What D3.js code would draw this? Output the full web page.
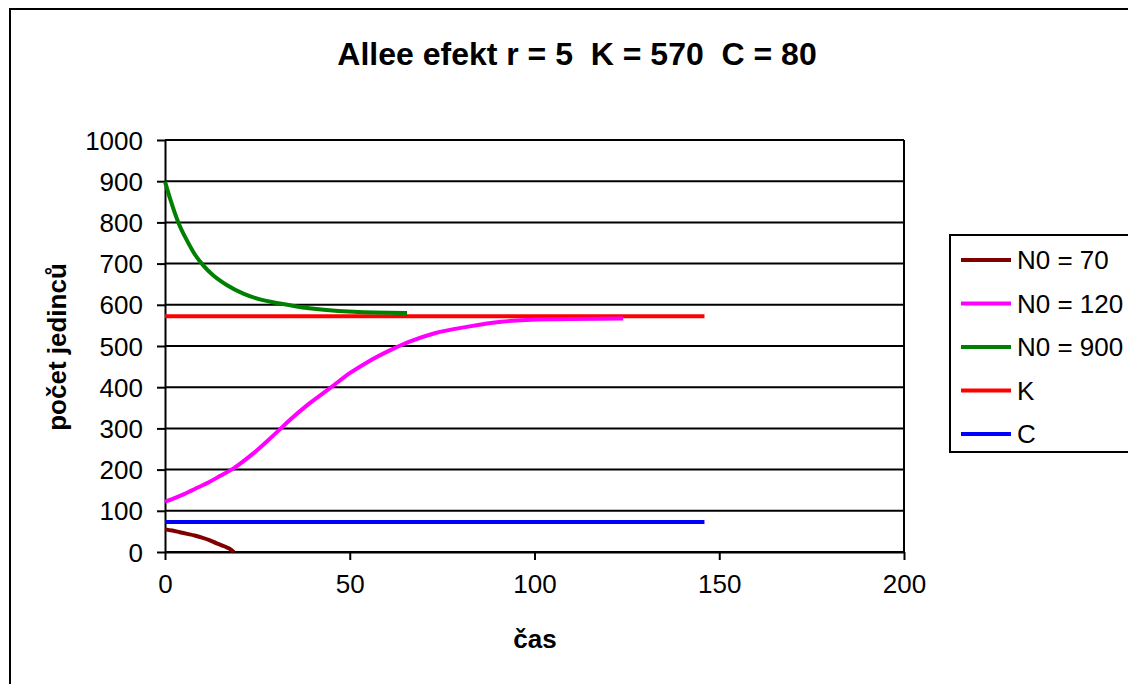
<!DOCTYPE html>
<html>
<head>
<meta charset="utf-8">
<script src="https://cdn.jsdelivr.net/npm/d3@7"></script>
<style>
  body { margin: 0; background: #fff; }
  text { font-family: "Liberation Sans", Arial, sans-serif; fill: #000; }
</style>
</head>
<body>
<div id="graph"></div>
<script>
// data
const seriesNames = ["N0 = 70", "N0 = 120", "N0 = 900", "K", "C"];
const seriesColors = ["#800000", "#ff00ff", "#008000", "#ff0000", "#0000ff"];

const t70 = [0, 2, 4, 6, 8, 10, 12, 14, 16, 18, 18.6];
const n70 = [55, 52, 48, 44, 40, 35, 29, 21, 14, 5, 0];

const t120 = [0, 5, 9, 12, 15, 18, 21, 24, 28, 31, 34, 39, 45, 50, 55, 61, 66, 73, 82, 91, 104, 124];
const n120 = [122, 140, 157, 170, 185, 200, 219, 240, 272, 297, 322, 360, 400, 434, 462, 490, 510, 531, 547, 559, 565, 567];

const t900 = [0, 1.4, 3.6, 5.9, 8.1, 10.4, 13.1, 16.7, 21.2, 25.7, 31.1, 35.6, 43, 51, 65.5];
const n900 = [899, 857, 800, 757, 722, 695, 671, 648, 627, 613, 603, 596, 588, 583, 580];

const tK = [0, 146];
const nK = [572, 572];

const tC = [0, 146];
const nC = [73, 73];

const xTicks = [0, 50, 100, 150, 200];
const yTicks = [0, 100, 200, 300, 400, 500, 600, 700, 800, 900, 1000];

const W = 1128, H = 684;
const margin = { top: 140, left: 165, right: 224, bottom: 132 };
const width = W - margin.left - margin.right;
const height = H - margin.top - margin.bottom;

const root = d3.select("#graph")
  .append("svg")
  .attr("width", W)
  .attr("height", H);

// outer chart border (runs off right / bottom)
root.append("rect")
  .attr("x", 10).attr("y", 9)
  .attr("width", W + 20).attr("height", H + 20)
  .attr("fill", "#fff")
  .attr("stroke", "#000")
  .attr("stroke-width", 2);

root.append("text")
  .attr("x", 577).attr("y", 65)
  .attr("text-anchor", "middle")
  .attr("font-size", "32px")
  .attr("font-weight", "bold")
  .style("white-space", "pre")
  .text("Allee efekt r = 5  K = 570  C = 80");

const svg = root.append("g")
  .attr("transform", `translate(${margin.left}, ${margin.top})`);

const xScale = d3.scaleLinear().domain([0, 200]).range([0, width]);
const yScale = d3.scaleLinear().domain([0, 1000]).range([height, 0]);

// gridlines
svg.selectAll(".grid")
  .data(yTicks)
  .join("line")
  .attr("x1", 0).attr("x2", width)
  .attr("y1", d => yScale(d)).attr("y2", d => yScale(d))
  .attr("stroke", "#000")
  .attr("stroke-width", 2);

// right border of plot area
svg.append("line")
  .attr("x1", width).attr("x2", width)
  .attr("y1", 0).attr("y2", height)
  .attr("stroke", "#000").attr("stroke-width", 2);

const xAxis = svg.append("g")
  .attr("transform", `translate(0, ${height})`)
  .call(d3.axisBottom(xScale).tickValues(xTicks).tickFormat(d3.format("d"))
    .tickSize(8).tickPadding(15).tickSizeOuter(0));

const yAxis = svg.append("g")
  .call(d3.axisLeft(yScale).tickValues(yTicks).tickFormat(d3.format("d"))
    .tickSize(8).tickPadding(14).tickSizeOuter(0));

[xAxis, yAxis].forEach(a => {
  a.select(".domain").attr("stroke", "#000").attr("stroke-width", 2);
  a.selectAll(".tick line").attr("stroke", "#000").attr("stroke-width", 2);
  a.selectAll(".tick text")
    .attr("font-size", "26px")
    .attr("font-family", "Liberation Sans, Arial, sans-serif")
    .attr("fill", "#000");
});
yAxis.selectAll(".tick text").attr("dy", "0.35em");
xAxis.selectAll(".tick text").attr("dy", "0.71em");

// axis titles
root.append("text")
  .attr("x", 535).attr("y", 648)
  .attr("text-anchor", "middle")
  .attr("font-size", "26px")
  .attr("font-weight", "bold")
  .text("čas");

root.append("text")
  .attr("transform", "translate(66, 347) rotate(-90)")
  .attr("text-anchor", "middle")
  .attr("font-size", "26px")
  .attr("font-weight", "bold")
  .text("počet jedinců");

// series
const series = [
  [t70, n70], [t120, n120], [t900, n900], [tK, nK], [tC, nC]
].map((s, i) => ({ name: seriesNames[i], color: seriesColors[i], pts: s[0].map((t, j) => [t, s[1][j]]) }));

const line = d3.line()
  .x(d => xScale(d[0]))
  .y(d => yScale(d[1]))
  .curve(d3.curveMonotoneX);

// K and C first, curves on top
const order = [3, 4, 2, 1, 0];
order.forEach(i => {
  svg.append("path")
    .datum(series[i].pts)
    .attr("fill", "none")
    .attr("stroke", series[i].color)
    .attr("stroke-width", 4)
    .attr("d", line);
});

// legend
const legend = root.append("g").attr("transform", "translate(950, 235)");
legend.append("rect")
  .attr("width", 200).attr("height", 217)
  .attr("fill", "#fff")
  .attr("stroke", "#000")
  .attr("stroke-width", 2);

const items = legend.selectAll(".item")
  .data(series)
  .join("g")
  .attr("transform", (d, i) => `translate(0, ${25 + i * 43.5})`);

items.append("line")
  .attr("x1", 11).attr("x2", 61)
  .attr("stroke", d => d.color)
  .attr("stroke-width", 4);

items.append("text")
  .attr("x", 67)
  .attr("dy", "0.35em")
  .attr("font-size", "26px")
  .text(d => d.name);
</script>
</body>
</html>
